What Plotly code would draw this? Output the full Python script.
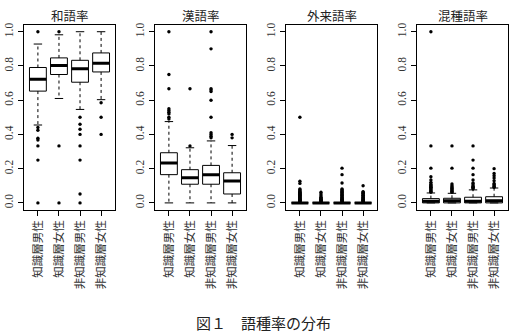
import plotly.graph_objects as go

# ---------------- data ----------------
categories = ["知識層男性", "知識層女性", "非知識層男性", "非知識層女性"]
panel_titles = ["和語率", "漢語率", "外来語率", "混種語率"]
y_ticks = [0.0, 0.2, 0.4, 0.6, 0.8, 1.0]
y_tick_labels = ["0.0", "0.2", "0.4", "0.6", "0.8", "1.0"]
caption = "図１　語種率の分布"

wago_q1 = [0.653, 0.750, 0.705, 0.765]
wago_med = [0.723, 0.802, 0.783, 0.816]
wago_q3 = [0.791, 0.847, 0.833, 0.876]
wago_lo = [0.455, 0.610, 0.546, 0.603]
wago_hi = [0.928, 0.982, 1.0, 1.0]
wago_out = [
    [1.0, 0.44, 0.424, 0.378, 0.367, 0.333, 0.25, 0.0],
    [1.0, 0.333, 0.0],
    [0.5, 0.459, 0.43, 0.4, 0.333, 0.25, 0.052, 0.0],
    [0.585, 0.5, 0.4],
]

kango_q1 = [0.165, 0.109, 0.109, 0.052]
kango_med = [0.233, 0.147, 0.165, 0.128]
kango_q3 = [0.293, 0.194, 0.219, 0.176]
kango_lo = [0.0, 0.0, 0.0, 0.0]
kango_hi = [0.475, 0.322, 0.362, 0.335]
kango_out = [
    [1.0, 0.75, 0.667, 0.55, 0.54, 0.53, 0.52, 0.5, 0.49],
    [0.667, 0.333],
    [1.0, 0.9, 0.667, 0.66, 0.65, 0.6, 0.5, 0.41, 0.40, 0.39, 0.38],
    [0.4, 0.38],
]

gairai_q1 = [0.0, 0.0, 0.0, 0.0]
gairai_med = [0.0, 0.0, 0.0, 0.0]
gairai_q3 = [0.0, 0.0, 0.0, 0.0]
gairai_lo = [0.0, 0.0, 0.0, 0.0]
gairai_hi = [0.0, 0.0, 0.0, 0.0]
gairai_out = [
    [0.5, 0.126, 0.114, 0.081, 0.077, 0.071, 0.067, 0.062, 0.059, 0.056, 0.053, 0.05,
     0.048, 0.045, 0.042, 0.04, 0.037, 0.034, 0.031, 0.029, 0.026, 0.024, 0.021,
     0.019, 0.017, 0.015, 0.013, 0.011, 0.009],
    [0.062, 0.052, 0.042, 0.033, 0.029, 0.026, 0.022, 0.019, 0.016, 0.013, 0.011, 0.009],
    [0.203, 0.165, 0.116, 0.081, 0.077, 0.071, 0.067, 0.062, 0.056, 0.05, 0.045,
     0.04, 0.036, 0.032, 0.028, 0.025, 0.022, 0.019, 0.016, 0.013, 0.011, 0.009],
    [0.1, 0.066, 0.062, 0.057, 0.053, 0.048, 0.044, 0.04, 0.036, 0.032, 0.029, 0.026,
     0.022, 0.019, 0.016, 0.013, 0.011, 0.009],
]

konshu_q1 = [0.0, 0.0, 0.0, 0.0]
konshu_med = [0.010, 0.012, 0.010, 0.012]
konshu_q3 = [0.025, 0.027, 0.033, 0.036]
konshu_lo = [0.0, 0.0, 0.0, 0.0]
konshu_hi = [0.058, 0.056, 0.076, 0.087]
konshu_out = [
    [1.0, 0.333, 0.203, 0.153, 0.134, 0.12, 0.111, 0.105, 0.1, 0.095, 0.091, 0.087,
     0.083, 0.077, 0.071, 0.067, 0.062],
    [0.333, 0.203, 0.11, 0.1, 0.093, 0.087, 0.083, 0.077, 0.071, 0.067, 0.062],
    [0.333, 0.25, 0.203, 0.165, 0.134, 0.116, 0.111, 0.1, 0.095, 0.091, 0.087, 0.083],
    [0.2, 0.172, 0.159, 0.145, 0.13, 0.114, 0.107, 0.1, 0.095, 0.091],
]

panels = [
    (wago_q1, wago_med, wago_q3, wago_lo, wago_hi, wago_out),
    (kango_q1, kango_med, kango_q3, kango_lo, kango_hi, kango_out),
    (gairai_q1, gairai_med, gairai_q3, gairai_lo, gairai_hi, gairai_out),
    (konshu_q1, konshu_med, konshu_q3, konshu_lo, konshu_hi, konshu_out),
]

# ---------------- layout geometry ----------------
W, H = 515, 332
BOX_HALF = 0.4
CAP_HALF = 0.2
panel_left_px = [24, 155, 286, 417]
panel_w_px = 91
top_px, bottom_px = 23, 209

fig = go.Figure()
layout = {}
annotations = []

for p, (q1, med, q3, lo, hi, outs) in enumerate(panels):
    sfx = "" if p == 0 else str(p + 1)
    xa, ya = "x" + sfx, "y" + sfx
    wx, wy, cx, cy, bx, by, mx, my, ox, oy = ([] for _ in range(10))
    for i in range(len(categories)):
        c = i + 1
        wx += [c, c, None, c, c, None]
        wy += [q3[i], hi[i], None, q1[i], lo[i], None]
        cx += [c - CAP_HALF, c + CAP_HALF, None, c - CAP_HALF, c + CAP_HALF, None]
        cy += [hi[i], hi[i], None, lo[i], lo[i], None]
        bx += [c - BOX_HALF, c + BOX_HALF, c + BOX_HALF, c - BOX_HALF, c - BOX_HALF, None]
        by += [q1[i], q1[i], q3[i], q3[i], q1[i], None]
        mx += [c - BOX_HALF, c + BOX_HALF, None]
        my += [med[i], med[i], None]
        ox += [c] * len(outs[i])
        oy += outs[i]
    common = dict(xaxis=xa, yaxis=ya, showlegend=False, hoverinfo="skip")
    fig.add_trace(go.Scatter(x=wx, y=wy, mode="lines",
                             line=dict(color="black", width=1, dash="3px,3px"), **common))
    fig.add_trace(go.Scatter(x=cx, y=cy, mode="lines",
                             line=dict(color="black", width=1), **common))
    fig.add_trace(go.Scatter(x=bx, y=by, mode="lines",
                             line=dict(color="black", width=1), **common))
    fig.add_trace(go.Scatter(x=mx, y=my, mode="lines",
                             line=dict(color="black", width=3), **common))
    fig.add_trace(go.Scatter(x=ox, y=oy, mode="markers",
                             marker=dict(color="black", size=3.4, symbol="circle"), **common))

    x0 = panel_left_px[p] / W
    x1 = (panel_left_px[p] + panel_w_px) / W
    layout["xaxis" + sfx] = dict(
        domain=[x0, x1], anchor=ya, range=[0.34, 4.66],
        tickvals=[1, 2, 3, 4], ticktext=categories, tickangle=-90,
        ticks="outside", ticklen=5, tickcolor="black", tickwidth=1,
        tickfont=dict(family="Noto Sans CJK JP", size=11.5, color="#333333"),
        showline=True, mirror=True, linecolor="black", linewidth=1,
        showgrid=False, zeroline=False, fixedrange=True,
    )
    layout["yaxis" + sfx] = dict(
        domain=[(H - bottom_px) / H, (H - top_px) / H], anchor=xa,
        range=[-0.04, 1.04], tickvals=y_ticks, ticktext=y_tick_labels,
        tickangle=-90, ticks="outside", ticklen=5, tickcolor="black", tickwidth=1,
        tickfont=dict(family="Liberation Serif", size=11.5, color="#333333"),
        showline=True, mirror=True, linecolor="black", linewidth=1,
        showgrid=False, zeroline=False, fixedrange=True,
    )
    annotations.append(dict(
        text=panel_titles[p], x=(x0 + x1) / 2, y=1 - 14 / H,
        xref="paper", yref="paper", showarrow=False,
        xanchor="center", yanchor="middle",
        font=dict(family="Noto Sans CJK JP", size=12.5, color="#222222"),
    ))

annotations.append(dict(
    text=caption, x=263 / W, y=1 - 322 / H, xref="paper", yref="paper",
    showarrow=False, xanchor="center", yanchor="middle",
    font=dict(family="Noto Sans CJK JP", size=15, color="#222222"),
))

fig.update_layout(
    width=W, height=H,
    margin=dict(l=0, r=0, t=0, b=0),
    paper_bgcolor="white", plot_bgcolor="white",
    annotations=annotations,
    **layout,
)

fig.write_html("out.html", config={"displayModeBar": False})
